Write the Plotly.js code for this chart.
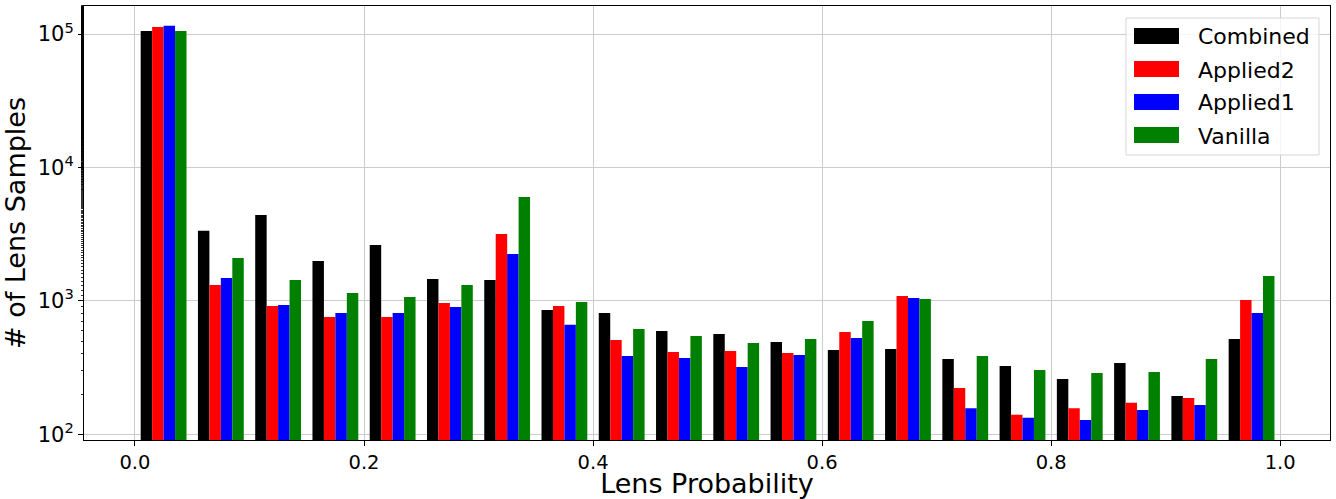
<!DOCTYPE html>
<html>
<head>
<meta charset="utf-8">
<script src="https://cdn.plot.ly/plotly-3.0.1.min.js"></script>
<style>
html,body{margin:0;padding:0;background:#fff;}
#chart{width:1336px;height:499px;}
</style>
</head>
<body>
<div id="chart"></div>
<script>
// Histogram bins: lower edges, bin width 0.05
const binEdges = [0.00,0.05,0.10,0.15,0.20,0.25,0.30,0.35,0.40,0.45,0.50,0.55,0.60,0.65,0.70,0.75,0.80,0.85,0.90,0.95];
const binWidth = 0.05;

const seriesNames = ["Combined","Applied2","Applied1","Vanilla"];
const seriesColors = ["#000000","#ff0000","#0000ff","#008000"];

const combined = [105500,3360,4400,1990,2625,1460,1435,855,811,594,565,492,428,436,367,325,260,342,194,518];
const applied2 = [113000,1315,916,757,757,964,3180,916,509,414,421,407,584,1089,222,140,157,172,187,1016];
const applied1 = [115600,1486,932,811,811,900,2250,661,386,373,319,393,527,1052,157,133,128,152,166,811];
const vanilla  = [105500,2100,1435,1146,1069,1315,6010,981,615,545,483,518,706,1034,386,303,288,293,367,1538];

const seriesValues = [combined, applied2, applied1, vanilla];

const xTickVals = [0.0,0.2,0.4,0.6,0.8,1.0];
const xTickText = ["0.0","0.2","0.4","0.6","0.8","1.0"];
const yTickVals = [100,1000,10000,100000];
const yTickText = ["10<sup>2</sup>","10<sup>3</sup>","10<sup>4</sup>","10<sup>5</sup>"];

const centers = binEdges.map(e => e + binWidth/2);

const traces = seriesValues.map((vals, i) => ({
  type: "bar",
  name: seriesNames[i],
  x: centers,
  y: vals,
  marker: {color: seriesColors[i], line: {width: 0}},
  hoverinfo: "x+y+name"
}));

const font = "DejaVu Sans, sans-serif";

// plot area in pixels
const L = 84, R = 1330, T = 6, B = 440;
const W = 1336, H = 499;
const px = x => (x - L) / (R - L);
const py = y => (B - y) / (B - T);

const shapes = [];
const annotations = [];
// legend frame
shapes.push({
  type: "rect", xref: "paper", yref: "paper",
  x0: px(1126), x1: px(1319), y0: py(155), y1: py(18),
  fillcolor: "rgba(255,255,255,0.8)",
  line: {color: "rgba(204,204,204,0.8)", width: 1}
});
const rowY = [36, 69, 102, 135];
seriesNames.forEach((n, i) => {
  shapes.push({
    type: "rect", xref: "paper", yref: "paper",
    x0: px(1134), x1: px(1179), y0: py(rowY[i] + 8), y1: py(rowY[i] - 8),
    fillcolor: seriesColors[i], line: {width: 0}
  });
  annotations.push({
    xref: "paper", yref: "paper", x: px(1196), y: py(rowY[i] + 1),
    xanchor: "left", yanchor: "middle", showarrow: false,
    text: n, font: {family: font, size: 22, color: "#000"}
  });
});

const layout = {
  width: W, height: H,
  margin: {l: L, r: W - R, t: T, b: H - B, pad: 0},
  paper_bgcolor: "#fff", plot_bgcolor: "#fff",
  showlegend: false,
  barmode: "group",
  bargap: 0.2,
  bargroupgap: 0,
  font: {family: font, color: "#000"},
  xaxis: {
    range: [-0.0445, 1.0435],
    tickvals: xTickVals, ticktext: xTickText,
    ticks: "outside", ticklen: 5, tickwidth: 1, tickcolor: "#000",
    tickfont: {family: font, size: 19.5, color: "#000"},
    showgrid: true, gridcolor: "#cccccc", gridwidth: 1,
    showline: true, linecolor: "#000", linewidth: 1, mirror: true,
    zeroline: false,
    title: {text: "Lens Probability", font: {family: font, size: 27, color: "#000"}, standoff: 12},
    automargin: false
  },
  yaxis: {
    type: "log",
    range: [1.957, 5.211],
    tickvals: yTickVals, ticktext: yTickText,
    ticks: "outside", ticklen: 5, tickwidth: 1, tickcolor: "#000",
    tickfont: {family: font, size: 21, color: "#000"},
    minor: {ticks: "outside", ticklen: 2.5, tickcolor: "#000", tickwidth: 0.8, showgrid: false},
    showgrid: true, gridcolor: "#cccccc", gridwidth: 1,
    showline: true, linecolor: "#000", linewidth: 1, mirror: true,
    zeroline: false,
    title: {text: "# of Lens Samples", font: {family: font, size: 27, color: "#000"}, standoff: 6},
    automargin: false
  },
  shapes: shapes,
  annotations: annotations
};

Plotly.newPlot("chart", traces, layout, {displayModeBar: false, staticPlot: true});
</script>
</body>
</html>
